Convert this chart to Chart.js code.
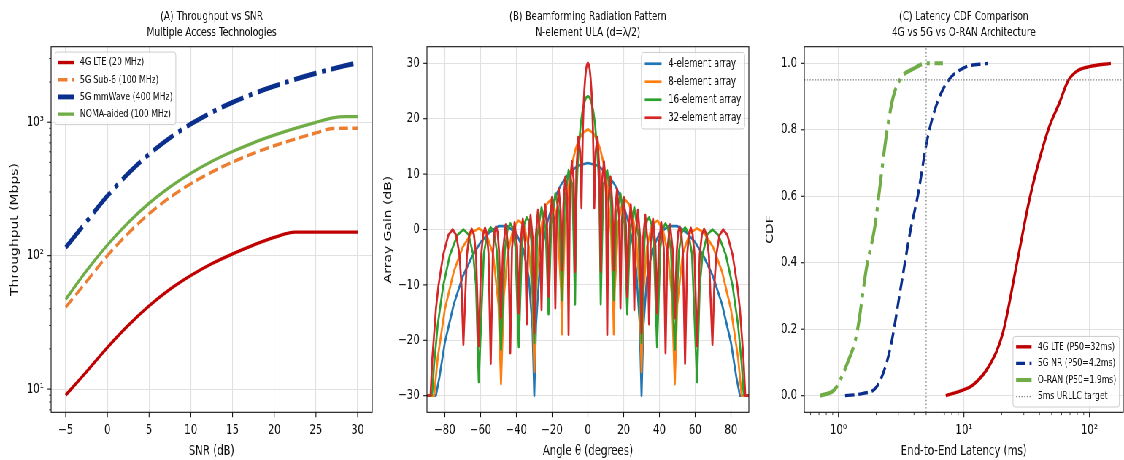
<!DOCTYPE html>
<html>
<head>
<meta charset="utf-8">
<script src="https://cdn.jsdelivr.net/npm/chart.js@4.4.1/dist/chart.umd.min.js"></script>
<style>
  html, body { margin: 0; padding: 0; background: #fff; overflow: hidden; }
  /* the figure is laid out wide and squeezed horizontally, like the reference */
  #fig { position: relative; width: 1540px; height: 460px; transform: scaleX(0.72987); transform-origin: 0 0; }
  #fig canvas { position: absolute; top: 0; }
</style>
</head>
<body>
<div id="fig">
  <canvas id="chartA" width="580" height="460" style="left:0px"></canvas>
  <canvas id="chartB" width="581" height="460" style="left:515px"></canvas>
  <canvas id="chartC" width="577" height="460" style="left:1032px"></canvas>
</div>
<script>
// ---- (A) throughput vs SNR ----
const snrDb = [-5, -2.5, 0, 2.5, 5, 7.5, 10, 12.5, 15, 17.5, 20, 22.5, 25, 27, 28.5, 30]
const tputLte = [9, 13.5, 20.5, 30, 42, 56, 71, 87, 103, 120, 137, 150, 150, 150, 150, 150]
const tputSub6 = [41, 64, 100, 147, 206, 273, 346, 423, 503, 584, 666, 748, 831, 897, 900, 900]
const tputMmw = [115, 180, 280, 413, 576, 764, 968, 1185, 1408, 1635, 1864, 2095, 2327, 2512, 2651, 2790]
const tputNoma = [47, 77, 120, 177, 247, 327, 415, 508, 603, 701, 799, 898, 997, 1077, 1100, 1100]
const snrTicks = [-5, 0, 5, 10, 15, 20, 25, 30]

// ---- (B) array gain, theta >= 0 (pattern is symmetric about broadside) ----
const angle4 = [0, 5, 10, 15, 17.5, 20, 22.5, 25, 27, 29, 30, 31, 33, 36, 40, 45, 50, 55, 60, 65, 70, 75, 80, 83, 85, 90]
const gain4 = [12.0, 11.6, 10.4, 8.1, 6.4, 4.3, 1.5, -2.4, -7.2, -17.2, -30, -17.7, -8.8, -3.7, -0.7, 0.6, 0.6, -0.5, -2.3, -5.0, -8.5, -13.5, -20.4, -26.6, -30, -30]
const angle8 = [0, 3, 5, 7, 9, 11, 13, 14, 14.48, 15, 17, 19, 21, 23, 25, 27, 29, 30, 31, 33, 36, 39, 42, 45, 47, 48.59, 50, 53, 57, 61, 65, 70, 75, 80, 84, 86, 90]
const gain8 = [18.1, 17.4, 16.3, 14.4, 11.6, 7.2, -1.0, -11.3, -18.9, -11.1, 1.2, 4.4, 5.3, 4.6, 2.6, -1.6, -11.2, -25.7, -11.7, -3.1, 1.0, 1.6, -0.1, -4.8, -12.0, -27.9, -13.6, -4.4, -0.7, 0.2, -0.6, -3.2, -7.6, -14.4, -23.2, -30, -30]
const angle16 = [0, 1, 2, 3, 4, 5.5, 6, 6.5, 7.18, 8.63, 10.81, 13.0, 14.48, 15.96, 18.21, 20.49, 22.02, 23.58, 25.94, 28.36, 30,
  31.67, 32.94, 34.23, 35.54, 36.87, 38.68, 40.54, 41.97, 43.43, 44.93, 46.47, 48.59, 50.81, 52.54, 54.34, 56.23, 58.21, 61.04,
  62.56, 64.16, 66.75, 69.64, 72.99, 77.16, 80.93, 84, 86, 87, 87.5, 90]
const gain16 = [24.1, 23.8, 22.9, 21.4, 19.1, 13.0, 9.6, 4.4, -13.5, 8.0, 10.7, 4.6, -12.7, 2.9, 6.5, 1.0, -15.3, 0.0, 4.0, -1.3, -20.5,
  -1.9, 1.5, 2.2, 1.0, -2.8, -21.2, -3.2, 0.2, 1.1, 0.0, -3.8, -21.7, -4.1, -0.5, 0.4, -0.7, -4.4, -27.5,
  -10.1, -4.5, -0.9, 0.0, -1.0, -4.6, -10.2, -17.3, -24.3, -29.3, -30, -30]
const angle32 = [0, 0.5, 1, 1.5, 2, 2.4, 2.8, 3.2, 3.58, 4.30, 5.38, 6.46, 7.18, 7.90, 8.99, 10.08, 10.81, 11.54, 12.64, 13.74, 14.48,
  15.22, 16.34, 17.46, 18.21, 18.97, 20.11, 21.25, 22.02, 22.80, 23.97, 25.15, 25.94, 26.74, 27.95, 29.18, 30,
  30.83, 32.09, 33.37, 34.23, 35.10, 36.42, 37.77, 38.68, 39.61, 41.01, 42.45, 43.43, 44.43, 45.95, 47.52, 48.59,
  49.68, 50.52, 51.38, 52.25, 53.13, 54.34, 55.59, 56.55, 57.53, 58.55, 59.60, 61.04, 62.56, 63.75, 64.98, 66.30, 67.67, 69.64,
  70.69, 71.81, 73.62, 75.64, 78.0, 80.93, 83.59, 85, 87, 88, 90]
const gain32 = [30.1, 29.8, 29.0, 27.4, 25.1, 22.4, 18.4, 11.5, 3.9, 14.0, 16.7, 10.5, -7.6, 8.8, 12.3, 6.7, -19.0, 5.6, 9.5, 4.2, -7.3,
  3.3, 7.4, 2.2, -14.2, 1.6, 5.8, 0.8, -12.1, 0.2, 4.5, -0.5, -14.5, -0.9, 3.5, -1.4, -18.7,
  -1.8, 2.6, -2.2, -17.1, -2.5, 1.9, -2.9, -15.1, -3.1, 1.3, -3.4, -22.3, -3.6, 0.9, -3.9, -16.0,
  -4.0, -0.4, 0.5, -0.5, -4.2, -24.2, -4.3, -0.7, 0.3, -0.8, -4.4, -21.0, -4.5, -0.9, 0.1, -0.9, -4.6, -20.8,
  -10.2, -4.6, -1.0, 0.0, -1.0, -4.6, -10.2, -14.4, -23.3, -30, -30]
const angleTicks = [-80, -60, -40, -20, 0, 20, 40, 60, 80]
const gainTicks = [-30, -20, -10, 0, 10, 20, 30]

// ---- (C) latency CDF ----
const latLte = [7.16, 9.8, 11.8, 16, 20.4, 26.1, 33.2, 39.9, 47.9, 57.5, 67.3, 78.4, 100, 148]
const cdfLte = [0, 0.017, 0.032, 0.092, 0.188, 0.388, 0.589, 0.71, 0.81, 0.88, 0.946, 0.975, 0.99, 1.0]
const latNr = [1.13, 1.58, 2.02, 2.57, 3.18, 3.71, 4.32, 5.03, 5.85, 7.25, 9.8, 15.5]
const cdfNr = [0, 0.007, 0.027, 0.137, 0.338, 0.488, 0.608, 0.759, 0.859, 0.94, 0.985, 1.0]
const latOran = [0.716, 0.94, 1.17, 1.4, 1.68, 1.95, 2.14, 2.42, 2.73, 3.18, 3.94, 5.03, 6.8]
const cdfOran = [0, 0.02, 0.095, 0.186, 0.388, 0.508, 0.628, 0.788, 0.898, 0.958, 0.983, 1.0, 1.0]
const urllcTargetMs = 5
const reliabilityTarget = 0.95
const cdfTicks = [0, 0.2, 0.4, 0.6, 0.8, 1.0]

const INK = '#111111'
const GRID = '#e1e1e1'
const SUP = { '0': '\u2070', '1': '\u00b9', '2': '\u00b2', '3': '\u00b3' }

Chart.defaults.font.family = "'DejaVu Sans', sans-serif"
Chart.defaults.color = INK
Chart.defaults.animation = false

const pts = (xs, ys) => xs.map((x, i) => ({ x: x, y: ys[i] }))
function mirrored(angles, gains) {
    const out = []
    for (let i = angles.length - 1; i > 0; i--) out.push({ x: -angles[i], y: gains[i] })
    angles.forEach((a, i) => out.push({ x: a, y: gains[i] }))
    return out
}
function logTicks(lo, hi) {
    const t = []
    for (let e = -1; e <= 3; e++) {
        for (let m = 1; m <= 9; m++) {
            const v = +(m * Math.pow(10, e)).toPrecision(3)
            if (v >= lo && v <= hi) t.push({ value: v, major: m === 1 })
        }
    }
    return t
}
const minus = v => String(v).replace('-', '\u2212')
const pow10 = (v, i, ticks) => ticks[i].major ? '10' + SUP[String(Math.round(Math.log10(v)))] : ''

function xAxis(type, min, max, ticks, label, cb) {
    return {
        type: type, min: min, max: max,
        afterBuildTicks: s => { s.ticks = typeof ticks === 'function' ? ticks() : ticks.map(v => ({ value: v, major: true })) },
        afterFit: s => { s.height = 47.7 },
        ticks: { autoSkip: false, maxRotation: 0, padding: 9.4, font: { size: 13.9 }, color: INK, callback: cb },
        grid: { color: c => (c.tick && c.tick.major) ? GRID : 'rgba(0,0,0,0)', lineWidth: 1.1, drawTicks: false },
        border: { display: false },
        title: { display: true, text: label, font: { size: 13.9 }, color: INK, padding: { top: 0, bottom: 0 } }
    }
}
function yAxis(type, min, max, ticks, label, titlePad, cb) {
    const a = xAxis(type, min, max, ticks, label, cb)
    a.afterFit = s => { s.width = 70 }
    a.ticks.padding = 10
    a.title.padding = { top: titlePad, bottom: 0 }
    return a
}

// spines and outward tick marks
const frameTicks = {
    id: 'frameTicks',
    afterDatasetsDraw(chart) {
        const { ctx, chartArea: a, scales } = chart
        ctx.save()
        ctx.strokeStyle = INK
        ctx.lineWidth = 1.1
        ctx.strokeRect(a.left, a.top, a.right - a.left, a.bottom - a.top)
        for (const s of [scales.x, scales.y]) {
            for (const t of s.ticks) {
                const p = s.getPixelForValue(t.value)
                const len = t.major ? 4.9 : 2.8
                ctx.beginPath()
                ctx.lineWidth = t.major ? 1.1 : 0.8
                if (s.isHorizontal()) { ctx.moveTo(p, a.bottom); ctx.lineTo(p, a.bottom + len) }
                else { ctx.moveTo(a.left, p); ctx.lineTo(a.left - len, p) }
                ctx.stroke()
            }
        }
        ctx.restore()
    }
}

// two-line title centred over the plot
const panelTitle = {
    id: 'panelTitle',
    afterDraw(chart, args, o) {
        const { ctx, chartArea: a } = chart
        ctx.save()
        ctx.font = o.size + "px 'DejaVu Sans'"
        ctx.fillStyle = INK
        ctx.textAlign = 'center'
        ctx.textBaseline = 'middle'
        o.lines.forEach((l, i) => ctx.fillText(l, (a.left + a.right) / 2, 16.7 + i * 16))
        ctx.restore()
    }
}

// matplotlib-like framed legend inside the axes
const boxLegend = {
    id: 'boxLegend',
    afterDraw(chart, args, o) {
        const { ctx, chartArea: a } = chart
        const fs = o.size
        const items = chart.data.datasets.filter(d => d.label)
        ctx.save()
        ctx.font = fs + "px 'DejaVu Sans'"
        const tw = Math.max(...items.map(d => ctx.measureText(d.label).width))
        const w = fs * 3.6 + tw
        const h = fs * 1.96 + (items.length - 1) * o.pitch
        const x0 = o.corner[1] === 'l' ? a.left + fs * 0.5 : a.right - fs * 0.5 - w
        const y0 = o.corner[0] === 't' ? a.top + fs * 0.5 : a.bottom - fs * 0.5 - h
        const r = 3
        ctx.beginPath()
        ctx.moveTo(x0 + r, y0)
        ctx.arcTo(x0 + w, y0, x0 + w, y0 + h, r)
        ctx.arcTo(x0 + w, y0 + h, x0, y0 + h, r)
        ctx.arcTo(x0, y0 + h, x0, y0, r)
        ctx.arcTo(x0, y0, x0 + w, y0, r)
        ctx.closePath()
        ctx.fillStyle = 'rgba(255,255,255,0.8)'
        ctx.fill()
        ctx.strokeStyle = '#cccccc'
        ctx.lineWidth = 1
        ctx.stroke()
        items.forEach((d, i) => {
            const y = y0 + fs * 0.98 + i * o.pitch
            const hx = x0 + fs * 0.4
            ctx.beginPath()
            ctx.setLineDash(d.borderDash || [])
            ctx.lineWidth = d.borderWidth
            ctx.strokeStyle = d.borderColor
            ctx.moveTo(hx, y)
            ctx.lineTo(hx + 2 * fs, y)
            ctx.stroke()
            ctx.setLineDash([])
            ctx.fillStyle = INK
            ctx.textAlign = 'left'
            ctx.textBaseline = 'middle'
            ctx.fillText(d.label, hx + 2.8 * fs, y)
        })
        ctx.restore()
    }
}

function baseOptions(titleLines, legend, scales) {
    return {
        responsive: false,
        devicePixelRatio: 1,
        animation: false,
        layout: { padding: { top: 46.7, right: 70, left: 0, bottom: 0 }, autoPadding: false },
        elements: { point: { radius: 0 }, line: { borderJoinStyle: 'round' } },
        plugins: {
            legend: { display: false },
            tooltip: { enabled: false },
            panelTitle: { lines: titleLines, size: 12.3 },
            boxLegend: legend
        },
        scales: scales
    }
}
const plugins = [frameTicks, panelTitle, boxLegend]

// (A)
var chartA = new Chart(document.getElementById('chartA').getContext('2d'), {
    type: 'line',
    data: {
        datasets: [
            { label: '4G LTE (20 MHz)', data: pts(snrDb, tputLte), borderColor: '#c00000', borderWidth: 3.4, cubicInterpolationMode: 'monotone', order: 3 },
            { label: '5G Sub-6 (100 MHz)', data: pts(snrDb, tputSub6), borderColor: '#ed7d31', borderWidth: 3.4, borderDash: [12.8, 5.6], cubicInterpolationMode: 'monotone', order: 2 },
            { label: '5G mmWave (400 MHz)', data: pts(snrDb, tputMmw), borderColor: '#0b2f8c', borderWidth: 4.9, borderDash: [31.1, 7.8, 4.9, 7.8], cubicInterpolationMode: 'monotone', order: 1 },
            { label: 'NOMA-aided (100 MHz)', data: pts(snrDb, tputNoma), borderColor: '#70ad47', borderWidth: 3.3, cubicInterpolationMode: 'monotone', order: 0 }
        ]
    },
    options: baseOptions(['(A) Throughput vs SNR', 'Multiple Access Technologies'],
        { corner: 'tl', size: 10.7, pitch: 17.2 }, {
            x: xAxis('linear', -6.75, 31.75, snrTicks, 'SNR (dB)', minus),
            y: yAxis('logarithmic', 6.7, 3680, () => logTicks(6.7, 3680), 'Throughput (Mbps)', 12.2, pow10)
        }),
    plugins: plugins
});

// (B)
var chartB = new Chart(document.getElementById('chartB').getContext('2d'), {
    type: 'line',
    data: {
        datasets: [
            { label: '4-element array', data: mirrored(angle4, gain4), borderColor: '#1f77b4', borderWidth: 2.7, tension: 0, order: 3 },
            { label: '8-element array', data: mirrored(angle8, gain8), borderColor: '#ff7f0e', borderWidth: 2.7, tension: 0, order: 2 },
            { label: '16-element array', data: mirrored(angle16, gain16), borderColor: '#2ca02c', borderWidth: 2.7, tension: 0, order: 1 },
            { label: '32-element array', data: mirrored(angle32, gain32), borderColor: '#d62728', borderWidth: 2.7, tension: 0, order: 0 }
        ]
    },
    options: baseOptions(['(B) Beamforming Radiation Pattern', 'N-element ULA (d=\u03bb/2)'],
        { corner: 'tr', size: 11.5, pitch: 18 }, {
            x: xAxis('linear', -90, 90, angleTicks, 'Angle \u03b8 (degrees)', minus),
            y: yAxis('linear', -33, 33, gainTicks, 'Array Gain (dB)', 8.7, minus)
        }),
    plugins: plugins
});

// (C)
var chartC = new Chart(document.getElementById('chartC').getContext('2d'), {
    type: 'line',
    data: {
        datasets: [
            { label: '4G LTE (P50=32ms)', data: pts(latLte, cdfLte), borderColor: '#c00000', borderWidth: 3.4, cubicInterpolationMode: 'monotone', order: 5 },
            { label: '5G NR (P50=4.2ms)', data: pts(latNr, cdfNr), borderColor: '#0b2f8c', borderWidth: 3.4, borderDash: [12.8, 5.6], cubicInterpolationMode: 'monotone', order: 4 },
            { label: 'O-RAN (P50=1.9ms)', data: pts(latOran, cdfOran), borderColor: '#70ad47', borderWidth: 4.1, borderDash: [26.7, 6.7, 4.2, 6.7], cubicInterpolationMode: 'monotone', order: 3 },
            { label: '5ms URLLC target', data: [{ x: urllcTargetMs, y: -0.05 }, { x: urllcTargetMs, y: 1.05 }], borderColor: '#808080', borderWidth: 1.3, borderDash: [1.4, 2.3], tension: 0, order: 1 },
            { data: [{ x: 0.535, y: reliabilityTarget }, { x: 190, y: reliabilityTarget }], borderColor: '#808080', borderWidth: 1.3, borderDash: [1.4, 2.3], tension: 0, order: 0 }
        ]
    },
    options: baseOptions(['(C) Latency CDF Comparison', '4G vs 5G vs O-RAN Architecture'],
        { corner: 'br', size: 10.6, pitch: 16.6 }, {
            x: xAxis('logarithmic', 0.535, 186, () => logTicks(0.535, 186), 'End-to-End Latency (ms)', pow10),
            y: yAxis('linear', -0.05, 1.05, cdfTicks, 'CDF', 15.4, v => v.toFixed(1))
        }),
    plugins: plugins
});
</script>
</body>
</html>
